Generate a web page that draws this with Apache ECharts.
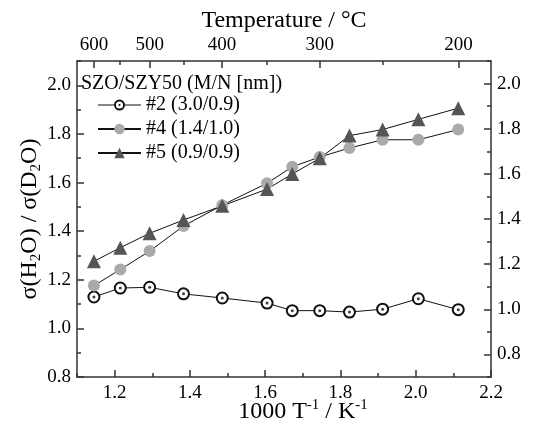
<!DOCTYPE html>
<html><head><meta charset="utf-8">
<script src="https://cdn.jsdelivr.net/npm/echarts@6/dist/echarts.min.js"></script>
<style>html,body{margin:0;padding:0;background:#fff}#c{width:552px;height:425px}</style>
</head><body><div id="c"></div>
<script>
// 1000/T (K^-1) for 600,550,500,450,400,350,325,300,275,250,225,200 °C
const invT = [1.145, 1.215, 1.293, 1.383, 1.486, 1.605, 1.672, 1.745, 1.824, 1.912, 2.007, 2.113];
const ratio2 = [1.129, 1.166, 1.169, 1.142, 1.125, 1.104, 1.073, 1.073, 1.067, 1.079, 1.122, 1.077];
const ratio4 = [1.176, 1.242, 1.318, 1.421, 1.507, 1.597, 1.665, 1.705, 1.742, 1.776, 1.776, 1.818];
const ratio5 = [1.276, 1.332, 1.391, 1.446, 1.504, 1.573, 1.635, 1.700, 1.793, 1.818, 1.860, 1.906];
const seriesNames = ['#2 (3.0/0.9)', '#4 (1.4/1.0)', '#5 (0.9/0.9)'];
const legendTitle = 'SZO/SZY50 (M/N [nm])';
const bottomMajor = [1.2, 1.4, 1.6, 1.8, 2.0, 2.2];
const bottomMinor = [1.1, 1.3, 1.5, 1.7, 1.9, 2.1];
const leftMajor = [0.8, 1.0, 1.2, 1.4, 1.6, 1.8, 2.0];
const leftMinor = [0.9, 1.1, 1.3, 1.5, 1.7, 1.9, 2.1];
const rightMajor = [0.8, 1.0, 1.2, 1.4, 1.6, 1.8, 2.0];
const rightMinor = [0.7, 0.9, 1.1, 1.3, 1.5, 1.7, 1.9, 2.1];
const topMajorC = [600, 500, 400, 300, 200];
const topMinorC = [550, 450, 350, 250];

const FONT = "'Liberation Serif','Times New Roman','DejaVu Serif',serif";
const AX = '#333';
const toInv = c => 1000 / (c + 273.15);
const pts = ys => invT.map((x, i) => [x, ys[i]]);

function axis(pos, min, max, ticks, len, labels, extra) {
  return Object.assign({
    type: 'value', position: pos, min: min, max: max,
    nameMoveOverlap: false,
    axisLine: { show: !!labels, onZero: false, lineStyle: { color: AX, width: 1.5 } },
    axisTick: { show: true, inside: true, length: len, customValues: ticks, lineStyle: { color: AX, width: 1.5 } },
    axisLabel: labels ? Object.assign({ show: true, fontFamily: FONT, fontSize: 19, color: '#000' }, labels) : { show: false },
    splitLine: { show: false },
    axisPointer: { show: false }
  }, extra || {});
}

const ringIcon = 'path://M0,6h16.3v1h-16.3z M26.7,6h16.3v1h-16.3z ' +
  'M16,6.5a5.5,5.5 0 1,1 11,0a5.5,5.5 0 1,1 -11,0z ' +
  'M17.9,6.5a3.6,3.6 0 1,0 7.2,0a3.6,3.6 0 1,0 -7.2,0z ' +
  'M20.4,6.5a1.1,1.1 0 1,1 2.2,0a1.1,1.1 0 1,1 -2.2,0z';

const chart = echarts.init(document.getElementById('c'), null, { renderer: 'canvas' });
chart.setOption({
  animation: false,
  backgroundColor: '#fff',
  grid: { left: 77, right: 61, top: 61, bottom: 48, containLabel: false, outerBoundsMode: 'none' },
  title: {
    text: legendTitle, left: 81, top: 73, padding: 0,
    textStyle: { fontFamily: FONT, fontSize: 20, fontWeight: 'normal', color: '#000', lineHeight: 22 }
  },
  legend: {
    orient: 'vertical', left: 97, top: 95, padding: 0,
    itemWidth: 43, itemHeight: 13, itemGap: 4, selectedMode: false,
    textStyle: { fontFamily: FONT, fontSize: 20, color: '#000' },
    data: [
      { name: seriesNames[0], icon: ringIcon, itemStyle: { color: '#111', borderWidth: 0, borderColor: 'transparent' } },
      seriesNames[1], seriesNames[2]
    ]
  },
  xAxis: [
    axis('bottom', 1.1, 2.2, bottomMajor, 7,
      { customValues: bottomMajor, formatter: v => v.toFixed(1), margin: 7 },
      { name: '1000 T{p|-1} / K{p|-1}', nameLocation: 'middle', nameGap: 21,
        nameTextStyle: { fontFamily: FONT, fontSize: 24, color: '#000', lineHeight: 28, padding: [0, 0, 0, 38],
          rich: { p: { fontFamily: FONT, fontSize: 15, lineHeight: 16, verticalAlign: 'top', color: '#000' } } } }),
    axis('bottom', 1.1, 2.2, bottomMinor, 4, null),
    axis('top', 1.1, 2.2, topMajorC.map(toInv), 7,
      { customValues: topMajorC.map(toInv), formatter: v => String(Math.round(1000 / v - 273.15)), margin: 6 },
      { name: 'Temperature / °C', nameLocation: 'middle', nameGap: 26,
        nameTextStyle: { fontFamily: FONT, fontSize: 24, color: '#000', lineHeight: 28 } }),
    axis('top', 1.1, 2.2, topMinorC.map(toInv), 4, null)
  ],
  yAxis: [
    axis('left', 0.8, 2.1, leftMajor, 7,
      { customValues: leftMajor, formatter: v => v.toFixed(1), margin: 6 },
      { name: 'σ(H{s|2}O) / σ(D{s|2}O)', nameLocation: 'middle', nameRotate: 90, nameGap: 33,
        nameTextStyle: { fontFamily: FONT, fontSize: 24, color: '#000', lineHeight: 28,
          rich: { s: { fontFamily: FONT, fontSize: 15, lineHeight: 14, verticalAlign: 'bottom', color: '#000' } } } }),
    axis('left', 0.8, 2.1, leftMinor, 4, null),
    axis('right', 0.7, 2.1, rightMajor, 7,
      { customValues: rightMajor, formatter: v => v.toFixed(1), margin: 6 }),
    axis('right', 0.7, 2.1, rightMinor, 4, null)
  ],
  series: [
    { name: seriesNames[0], type: 'line', xAxisIndex: 0, yAxisIndex: 0, data: pts(ratio2),
      symbol: 'circle', symbolSize: 11,
      itemStyle: { color: '#fff', borderColor: '#111', borderWidth: 2 },
      lineStyle: { color: '#111', width: 1 } },
    { name: seriesNames[1], type: 'line', xAxisIndex: 0, yAxisIndex: 0, data: pts(ratio4),
      symbol: 'circle', symbolSize: 12,
      itemStyle: { color: '#aaaaaa' },
      lineStyle: { color: '#111', width: 1 } },
    { name: seriesNames[2], type: 'line', xAxisIndex: 0, yAxisIndex: 0, data: pts(ratio5),
      symbol: 'triangle', symbolSize: 14,
      itemStyle: { color: '#555555' },
      lineStyle: { color: '#111', width: 1 } },
    { name: 'centre dots', type: 'scatter', xAxisIndex: 0, yAxisIndex: 0, data: pts(ratio2),
      symbol: 'circle', symbolSize: 3, silent: true, z: 5,
      itemStyle: { color: '#111' } }
  ]
});
</script></body></html>
